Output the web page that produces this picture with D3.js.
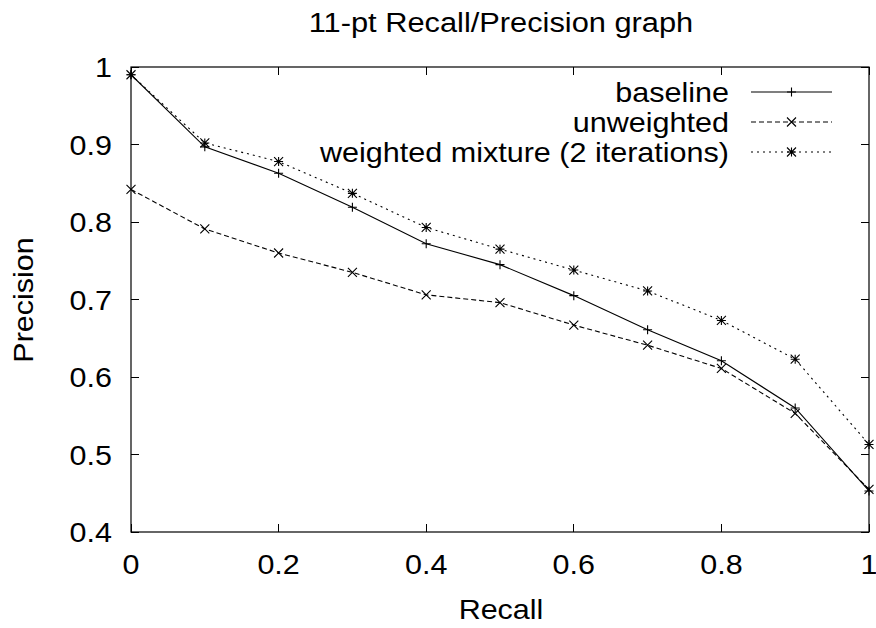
<!DOCTYPE html>
<html><head><meta charset="utf-8">
<script src="https://cdn.jsdelivr.net/npm/d3@7"></script>
<style>body{margin:0;background:#fff}svg text{font-family:"Liberation Sans",Arial,sans-serif;fill:#000}</style>
</head><body><svg id="c" width="876" height="628"></svg>
<script>
const recall = [0,0.1,0.2,0.3,0.4,0.5,0.6,0.7,0.8,0.9,1.0];
const baseline = [0.99,0.897,0.863,0.819,0.772,0.745,0.705,0.661,0.621,0.56,0.453];
const unweighted = [0.842,0.791,0.760,0.735,0.706,0.696,0.667,0.641,0.611,0.553,0.455];
const weighted = [0.99,0.902,0.878,0.837,0.793,0.765,0.738,0.711,0.673,0.623,0.513];
const seriesNames = ["baseline","unweighted","weighted mixture (2 iterations)"];
const xTicks = [0,0.2,0.4,0.6,0.8,1];
const yTicks = [0.4,0.5,0.6,0.7,0.8,0.9,1];

const svg = d3.select("#c");
const L=131,R=869,T=67,B=532;
const x = d3.scaleLinear().domain([0,1]).range([L,R]);
const y = d3.scaleLinear().domain([0.4,1]).range([B,T]);
const tl = 8;

function txt(px,py,s,size,sx,anchor,rot){
  return svg.append("text")
    .attr("transform",`translate(${px},${py})`+(rot?` rotate(${rot})`:"")+` scale(${sx},1)`)
    .attr("text-anchor",anchor).attr("font-size",size).text(s);
}

const g = svg.append("g").attr("stroke","#000").attr("stroke-width",1).attr("shape-rendering","crispEdges");
xTicks.forEach(v=>{
  g.append("line").attr("x1",x(v)).attr("x2",x(v)).attr("y1",B).attr("y2",B-tl);
  g.append("line").attr("x1",x(v)).attr("x2",x(v)).attr("y1",T).attr("y2",T+tl);
});
yTicks.forEach(v=>{
  g.append("line").attr("x1",L).attr("x2",L+tl).attr("y1",y(v)).attr("y2",y(v));
  g.append("line").attr("x1",R).attr("x2",R-tl).attr("y1",y(v)).attr("y2",y(v));
});
svg.append("rect").attr("x",L).attr("y",T).attr("width",R-L).attr("height",B-T)
  .attr("fill","none").attr("stroke","#000").attr("stroke-width",1.2);

const fmt = v => v===0?"0":(v===1?"1":d3.format(".1f")(v));
xTicks.forEach(v=>txt(x(v),574,fmt(v),28.5,1.07,"middle"));
yTicks.forEach(v=>txt(112,y(v)+10.3,fmt(v),28.5,1.07,"end"));

txt(501,619,"Recall",28.5,1.07,"middle");
txt(33,300,"Precision",28.5,1.07,"middle",-90);
txt(501,32,"11-pt Recall/Precision graph",28,1.1,"middle");

const dashes = [null,"5,3","2,4"];
const data = [baseline,unweighted,weighted];
const ms = 4.5;
function marker(sel, k, cx, cy){
  const p = d3.path();
  if(k===0||k===2){ p.moveTo(cx-ms,cy); p.lineTo(cx+ms,cy); p.moveTo(cx,cy-ms); p.lineTo(cx,cy+ms); }
  if(k===1||k===2){ p.moveTo(cx-ms,cy-ms); p.lineTo(cx+ms,cy+ms); p.moveTo(cx-ms,cy+ms); p.lineTo(cx+ms,cy-ms); }
  sel.append("path").attr("d",p.toString()).attr("stroke","#000").attr("stroke-width",1.1).attr("fill","none");
}
const line = d3.line().x((d,i)=>x(recall[i])).y(d=>y(d));
data.forEach((s,k)=>{
  const gg = svg.append("g");
  gg.append("path").attr("d",line(s)).attr("fill","none").attr("stroke","#000").attr("stroke-width",1.1)
    .attr("stroke-dasharray",dashes[k]);
  s.forEach((v,i)=>marker(gg,k,x(recall[i]),y(v)));
  const ly = 92 + k*30;
  txt(729,ly+9.5,seriesNames[k],26.8,1.14,"end");
  gg.append("line").attr("x1",751).attr("x2",832).attr("y1",ly).attr("y2",ly).attr("stroke","#000").attr("stroke-width",1.1)
    .attr("stroke-dasharray",dashes[k]);
  marker(gg,k,791.5,ly);
});
</script></body></html>
